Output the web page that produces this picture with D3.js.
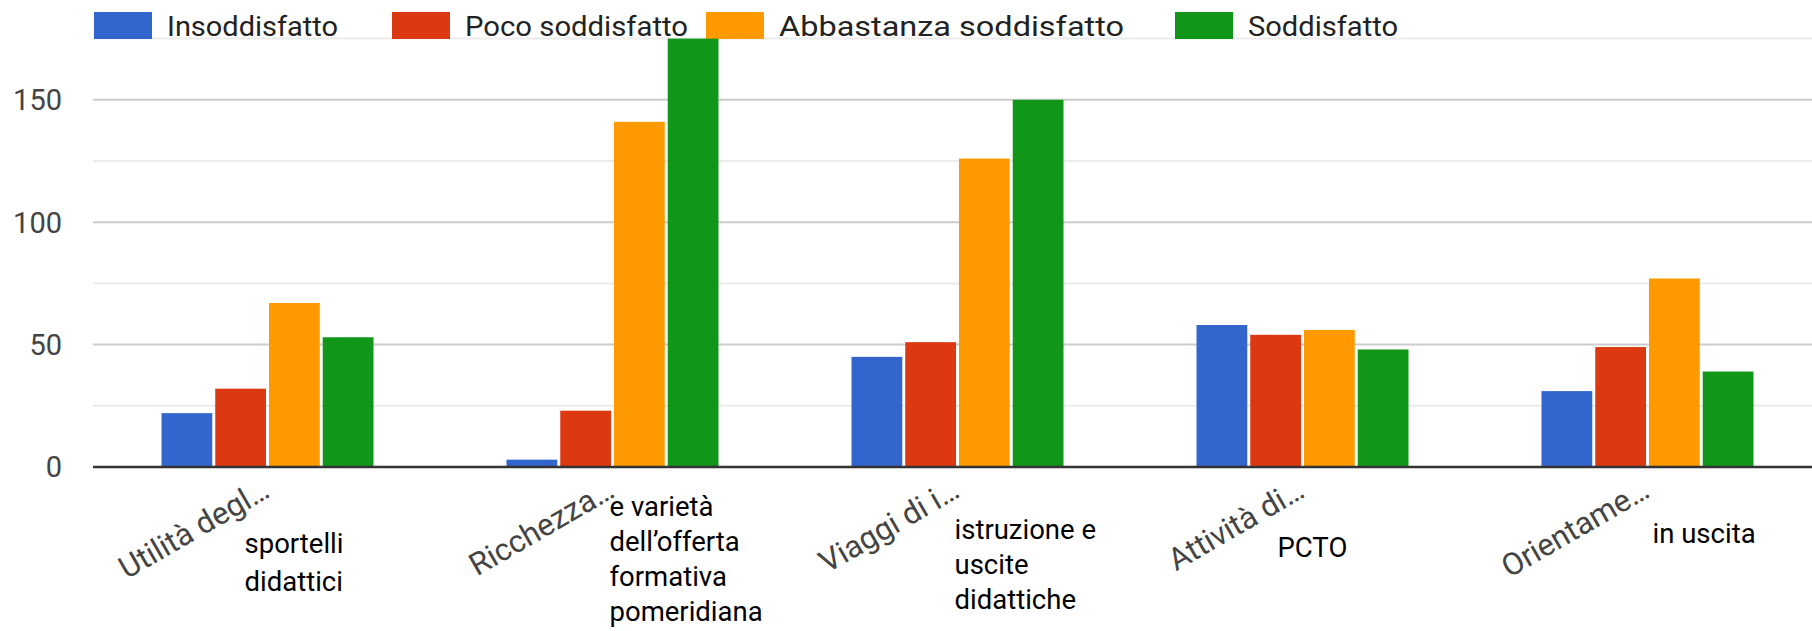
<!DOCTYPE html>
<html>
<head>
<meta charset="utf-8">
<script src="https://cdn.jsdelivr.net/npm/d3@7.9.0/dist/d3.min.js"></script>
<style>
  html, body { margin: 0; padding: 0; background: #fff; }
  svg { display: block; font-family: Roboto, "Open Sans", sans-serif; }
</style>
</head>
<body>
<svg id="chart" width="1812" height="631"></svg>
<script>
// categories (truncated axis labels) and the wrapped remainder typed over the picture
const categories = ['Utilità degl…', 'Ricchezza…', 'Viaggi di i…', 'Attività di…', 'Orientame…'];
const extraLines = [
  ['sportelli', 'didattici'],
  ['e varietà', 'dell’offerta', 'formativa', 'pomeridiana'],
  ['istruzione e', 'uscite', 'didattiche'],
  ['PCTO'],
  ['in uscita']
];
const seriesNames = ['Insoddisfatto', 'Poco soddisfatto', 'Abbastanza soddisfatto', 'Soddisfatto'];
const insoddisfatto = [22, 3, 45, 58, 31];
const pocoSoddisfatto = [32, 23, 51, 54, 49];
const abbastanza = [67, 141, 126, 56, 77];
const soddisfatto = [53, 175, 150, 48, 39];
const yTicks = [0, 50, 100, 150];
const yMinor = [25, 75, 125, 175];

const series = [insoddisfatto, pocoSoddisfatto, abbastanza, soddisfatto];
const colors = ['#3366cc', '#dc3912', '#ff9900', '#109618'];

const svg = d3.select('#chart');
const W = 1812;
const left = 93, zeroY = 467;

let y = d3.scaleLinear().domain([0, 175]).range([zeroY, zeroY - 175 * 2.448]);
let x0 = d3.scaleBand().domain(categories).range([95, 1820])
  .paddingInner(0.3855).paddingOuter(0.19275);
let x1 = d3.scaleBand().domain(seriesNames).range([0, x0.bandwidth()]).paddingInner(0.055);

// gridlines
svg.append('g').selectAll('line').data(yMinor).join('line')
  .attr('x1', left).attr('x2', W)
  .attr('y1', d => y(d)).attr('y2', d => y(d))
  .attr('stroke', '#ebebeb').attr('stroke-width', 2);
svg.append('g').selectAll('line').data(yTicks.filter(d => d > 0)).join('line')
  .attr('x1', left).attr('x2', W)
  .attr('y1', d => y(d)).attr('y2', d => y(d))
  .attr('stroke', '#cccccc').attr('stroke-width', 2);

// y labels
svg.append('g').selectAll('text').data(yTicks).join('text')
  .attr('x', 62).attr('y', d => y(d))
  .attr('dy', '0.36em')
  .attr('text-anchor', 'end')
  .attr('font-size', 29)
  .attr('fill', '#444')
  .text(d => d);

// legend
const legendX = [94, 392, 706, 1175];
const legendLen = [171, 223, 345, 150];
const leg = svg.append('g').selectAll('g').data(seriesNames).join('g')
  .attr('transform', (d, i) => `translate(${legendX[i]},0)`);
leg.append('rect').attr('x', 0).attr('y', 12).attr('width', 58).attr('height', 27)
  .attr('fill', (d, i) => colors[i]);
leg.append('text').attr('x', 73).attr('y', 36)
  .attr('font-size', 28.5).attr('fill', '#222')
  .attr('textLength', (d, i) => legendLen[i])
  .attr('lengthAdjust', 'spacingAndGlyphs')
  .text(d => d);

// bars
const groups = svg.append('g').selectAll('g').data(categories).join('g')
  .attr('transform', d => `translate(${x0(d)},0)`);
groups.selectAll('rect')
  .data((d, ci) => series.map((s, si) => ({ name: seriesNames[si], value: s[ci], si })))
  .join('rect')
  .attr('x', d => x1(d.name))
  .attr('width', x1.bandwidth())
  .attr('y', d => y(d.value))
  .attr('height', d => zeroY - y(d.value))
  .attr('fill', d => colors[d.si]);

// baseline
svg.append('line').attr('x1', left).attr('x2', W)
  .attr('y1', zeroY).attr('y2', zeroY)
  .attr('stroke', '#333').attr('stroke-width', 2.5);

// rotated category labels
svg.append('g').selectAll('text').data(categories).join('text')
  .attr('transform', d => `translate(${x0(d) + x0.bandwidth() / 2 + 4},${zeroY + 29}) rotate(-30)`)
  .attr('text-anchor', 'end')
  .attr('font-size', 31)
  .attr('fill', '#444')
  .text(d => d);

// wrapped remainder of the labels (black, horizontal)
const extraDx = [-23, -3, -3, -25, 5];
const extraTop = [553, 516, 539, 557, 543];
const extraLead = [38, 35, 35, 0, 0];
categories.forEach((c, i) => {
  const cx = x0(c) + x0.bandwidth() / 2 + extraDx[i];
  svg.append('g').selectAll('text').data(extraLines[i]).join('text')
    .attr('x', cx)
    .attr('y', (d, k) => extraTop[i] + k * extraLead[i])
    .attr('font-size', 27.5)
    .attr('fill', '#000')
    .text(d => d);
});
</script>
</body>
</html>
